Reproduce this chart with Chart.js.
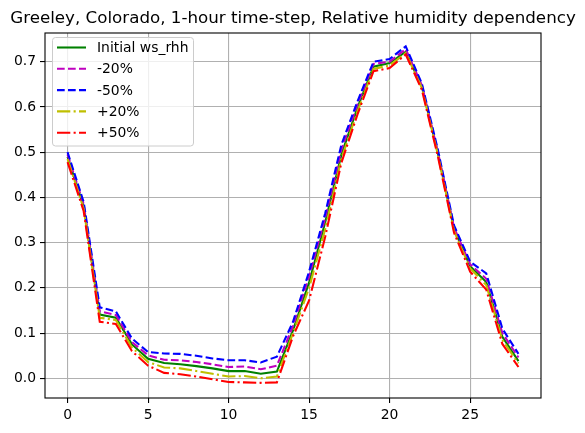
<!DOCTYPE html>
<html>
<head>
<meta charset="utf-8">
<script src="https://cdn.jsdelivr.net/npm/chart.js@4.4.0/dist/chart.umd.min.js"></script>
<style>
html,body{margin:0;padding:0;background:#fff;}
#wrap{width:585px;height:433px;}
</style>
</head>
<body>
<div id="wrap"><canvas id="c" width="585" height="433"></canvas></div>
<script>
const TITLE = "Greeley, Colorado, 1-hour time-step, Relative humidity dependency";
const hours = [0,1,2,3,4,5,6,7,8,9,10,11,12,13,14,15,16,17,18,19,20,21,22,23,24,25,26,27,28];
const seriesLabels = ["Initial ws_rhh", "-20%", "-50%", "+20%", "+50%"];
const initialRhh = [0.49,0.38,0.141,0.134,0.075,0.043,0.034,0.031,0.027,0.022,0.016,0.016,0.010,0.015,0.106,0.212,0.345,0.494,0.598,0.689,0.697,0.722,0.645,0.497,0.330,0.248,0.213,0.092,0.038];
const minus20 = [0.495,0.385,0.148,0.140,0.080,0.051,0.041,0.040,0.036,0.031,0.025,0.026,0.020,0.028,0.116,0.225,0.355,0.505,0.605,0.695,0.700,0.728,0.648,0.500,0.333,0.252,0.220,0.100,0.046];
const minus50 = [0.500,0.390,0.157,0.148,0.088,0.058,0.055,0.054,0.050,0.044,0.040,0.040,0.035,0.048,0.125,0.236,0.365,0.516,0.612,0.700,0.706,0.734,0.652,0.505,0.338,0.258,0.232,0.110,0.054];
const plus20 = [0.485,0.375,0.134,0.129,0.068,0.036,0.024,0.022,0.016,0.010,0.004,0.005,0.000,0.004,0.100,0.200,0.330,0.485,0.590,0.684,0.692,0.719,0.642,0.494,0.326,0.243,0.206,0.085,0.033];
const plus50 = [0.478,0.370,0.125,0.120,0.060,0.028,0.012,0.009,0.004,-0.002,-0.008,-0.009,-0.010,-0.009,0.093,0.172,0.313,0.476,0.583,0.679,0.686,0.716,0.638,0.490,0.322,0.236,0.196,0.076,0.025];
const xTicks = [0,5,10,15,20,25];
const yTicks = [0.0,0.1,0.2,0.3,0.4,0.5,0.6,0.7];

const allSeries = [initialRhh, minus20, minus50, plus20, plus50];
const colors = ["#008000", "#bf00bf", "#0000ff", "#bfbf00", "#ff0000"];
const dashes = [[], [7.7,3.3], [7.7,3.3], [13.3,3.3,2.1,3.3], [13.3,3.3,2.1,3.3]];
const LW = 2.08;
const FONT = "DejaVu Sans";

const datasets = allSeries.map((s, i) => ({
  label: seriesLabels[i],
  data: hours.map((h, j) => ({x: h, y: s[j]})),
  borderColor: colors[i],
  backgroundColor: colors[i],
  borderWidth: LW,
  borderDash: dashes[i],
  pointRadius: 0,
  tension: 0,
  fill: false,
  order: allSeries.length - i
}));

const overlay = {
  id: 'overlay',
  afterDraw(chart) {
    const ctx = chart.ctx, a = chart.chartArea;
    ctx.save();
    // frame
    ctx.strokeStyle = '#000';
    ctx.lineWidth = 1.1;
    ctx.setLineDash([]);
    ctx.strokeRect(a.left, a.top, a.right - a.left, a.bottom - a.top);
    // title
    ctx.fillStyle = '#000';
    ctx.font = '16.7px "' + FONT + '"';
    ctx.textAlign = 'center';
    ctx.textBaseline = 'alphabetic';
    ctx.fillText(TITLE, (a.left + a.right) / 2, 23);
    // legend
    const lx = 52.5, ly = 37.5, lw = 141, lh = 108.5;
    ctx.beginPath();
    ctx.roundRect(lx, ly, lw, lh, 3);
    ctx.fillStyle = 'rgba(255,255,255,0.8)';
    ctx.fill();
    ctx.strokeStyle = '#cccccc';
    ctx.lineWidth = 1;
    ctx.stroke();
    ctx.font = '13.9px "' + FONT + '"';
    ctx.textAlign = 'left';
    ctx.textBaseline = 'middle';
    for (let i = 0; i < seriesLabels.length; i++) {
      const cy = 47.5 + i * 21.3;
      ctx.beginPath();
      ctx.strokeStyle = colors[i];
      ctx.lineWidth = LW;
      ctx.setLineDash(dashes[i]);
      ctx.moveTo(57, cy);
      ctx.lineTo(86, cy);
      ctx.stroke();
      ctx.setLineDash([]);
      ctx.fillStyle = '#000';
      ctx.fillText(seriesLabels[i], 97, cy + 1);
    }
    ctx.restore();
  }
};

new Chart(document.getElementById('c'), {
  type: 'line',
  data: { datasets },
  options: {
    responsive: false,
    animation: false,
    devicePixelRatio: 1,
    layout: { padding: { left: 0, right: 44, top: 33, bottom: 0 } },
    plugins: { legend: { display: false }, title: { display: false }, tooltip: { enabled: false } },
    scales: {
      x: {
        type: 'linear',
        min: -1.4, max: 29.4,
        afterBuildTicks(scale) { scale.ticks = xTicks.map(v => ({value: v})); },
        afterFit(scale) { scale.height = 35; },
        ticks: { font: { family: FONT, size: 13.9 }, color: '#000', padding: 4, maxRotation: 0,
                 callback: v => String(v) },
        grid: { color: '#b0b0b0', lineWidth: 1.1, tickColor: '#000', tickLength: 5, drawTicks: true },
        border: { display: false }
      },
      y: {
        type: 'linear',
        min: -0.0435, max: 0.7635,
        afterBuildTicks(scale) { scale.ticks = yTicks.map(v => ({value: v})); },
        afterFit(scale) { scale.width = 45; },
        ticks: { font: { family: FONT, size: 13.9 }, color: '#000', padding: 4,
                 callback: v => Number(v).toFixed(1) },
        grid: { color: '#b0b0b0', lineWidth: 1.1, tickColor: '#000', tickLength: 5, drawTicks: true },
        border: { display: false }
      }
    }
  },
  plugins: [overlay]
});
</script>
</body>
</html>
